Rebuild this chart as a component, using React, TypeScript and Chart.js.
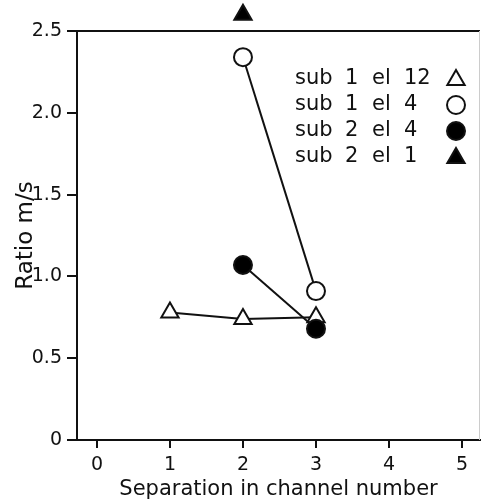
import React, { useEffect, useRef } from "react";
import { Chart, registerables } from "chart.js";

Chart.register(...registerables);

const seriesNames = ["sub 1 el 12", "sub 1 el 4", "sub 2 el 4", "sub 2 el 1"];
const sub1el12X = [1, 2, 3];
const sub1el12Y = [0.78, 0.74, 0.75];
const sub1el4X = [2, 3];
const sub1el4Y = [2.34, 0.91];
const sub2el4X = [2, 3];
const sub2el4Y = [1.07, 0.68];
const sub2el1X = [2];
const sub2el1Y = [2.6];
const xTickValues = [0, 1, 2, 3, 4, 5];
const yTickValues = [0, 0.5, 1.0, 1.5, 2.0, 2.5];
const xTitle = "Separation in channel number";
const yTitle = "Ratio m/s";

const FONT = "'DejaVu Sans', sans-serif";

const pts = (xs: number[], ys: number[]) => xs.map((x, i) => ({ x, y: ys[i] }));

const markerStyles = [
  { style: "triangle", fill: "#ffffff", r: 10 },
  { style: "circle", fill: "#ffffff", r: 9 },
  { style: "circle", fill: "#000000", r: 9 },
  { style: "triangle", fill: "#000000", r: 10 },
];

function drawMarker(ctx: CanvasRenderingContext2D, i: number, x: number, y: number) {
  const m = markerStyles[i];
  ctx.beginPath();
  if (m.style === "circle") {
    ctx.arc(x, y, m.r, 0, Math.PI * 2);
  } else {
    const r = m.r;
    ctx.moveTo(x, y - r);
    ctx.lineTo(x + r * Math.cos(Math.PI / 6), y + r / 2);
    ctx.lineTo(x - r * Math.cos(Math.PI / 6), y + r / 2);
    ctx.closePath();
  }
  ctx.fillStyle = m.fill;
  ctx.fill();
  ctx.strokeStyle = "#111";
  ctx.lineWidth = 2;
  ctx.stroke();
}

const frameAndLegend = {
  id: "frameAndLegend",
  afterDraw(chart: any) {
    const { ctx, chartArea, scales } = chart;
    ctx.save();
    ctx.strokeStyle = "#111";
    ctx.lineWidth = 2;
    ctx.beginPath();
    ctx.moveTo(chartArea.left, chartArea.top);
    ctx.lineTo(chartArea.right, chartArea.top);
    ctx.stroke();
    ctx.strokeStyle = "#ccc";
    ctx.lineWidth = 1;
    ctx.beginPath();
    ctx.moveTo(chartArea.right - 0.5, chartArea.top);
    ctx.lineTo(chartArea.right - 0.5, chartArea.bottom);
    ctx.stroke();

    // x tick labels, placed through the x scale
    ctx.font = `19px ${FONT}`;
    ctx.fillStyle = "#111";
    ctx.textAlign = "center";
    ctx.textBaseline = "middle";
    xTickValues.forEach((v) => {
      ctx.fillText(String(v), scales.x.getPixelForValue(v), chartArea.bottom + 25);
    });

    // out-of-range point (sub 2 el 1) placed through the scales
    sub2el1X.forEach((xv, k) => {
      drawMarker(ctx, 3, scales.x.getPixelForValue(xv), scales.y.getPixelForValue(sub2el1Y[k]));
    });

    // legend
    const cols = [295, 345, 372, 404];
    const rowY0 = 79;
    const rowGap = 26;
    const mx = 456;
    ctx.font = `21px ${FONT}`;
    ctx.textBaseline = "middle";
    ctx.textAlign = "left";
    seriesNames.forEach((name, i) => {
      const y = rowY0 + i * rowGap;
      ctx.fillStyle = "#111";
      name.split(" ").forEach((w, j) => ctx.fillText(w, cols[j], y));
      drawMarker(ctx, i, mx, y + (markerStyles[i].style === "triangle" ? 1 : 0));
    });
    ctx.restore();
  },
};

export default function App() {
  const ref = useRef<HTMLCanvasElement | null>(null);
  useEffect(() => {
    if (!ref.current) return;
    const mk = (i: number, data: any[], order: number) => ({
      label: seriesNames[i],
      data,
      showLine: true,
      borderColor: "#111",
      borderWidth: 2,
      pointStyle: markerStyles[i].style,
      pointRadius: markerStyles[i].r,
      pointBackgroundColor: markerStyles[i].fill,
      pointBorderColor: "#111",
      pointBorderWidth: 2,
      clip: false,
      order,
    });
    const chart = new Chart(ref.current, {
      type: "scatter",
      data: {
        datasets: [
          mk(0, pts(sub1el12X, sub1el12Y), 2),
          mk(1, pts(sub1el4X, sub1el4Y), 1),
          mk(2, pts(sub2el4X, sub2el4Y), 0),
        ],
      },
      plugins: [frameAndLegend],
      options: {
        animation: false,
        responsive: false,
        maintainAspectRatio: false,
        layout: { autoPadding: false, padding: { top: 31, right: 1, left: 0, bottom: 0 } },
        plugins: { legend: { display: false }, tooltip: { enabled: false } },
        scales: {
          x: {
            type: "linear",
            min: -0.273,
            max: 5.246,
            afterFit: (s: any) => { s.height = 60; },
            afterBuildTicks: (s: any) => { s.ticks = xTickValues.map((v) => ({ value: v })); },
            grid: { drawOnChartArea: false, tickLength: 8, color: "#111", lineWidth: 2 },
            border: { color: "#111", width: 2 },
            ticks: { display: false },
            title: { display: true, text: xTitle, color: "#111", font: { family: FONT, size: 21 }, padding: { top: 0, bottom: -2 } },
          },
          y: {
            type: "linear",
            min: 0,
            max: 2.5,
            afterFit: (s: any) => { s.width = 77; },
            afterBuildTicks: (s: any) => { s.ticks = yTickValues.map((v) => ({ value: v })); },
            grid: { drawOnChartArea: false, tickLength: 10, color: "#111", lineWidth: 2 },
            border: { color: "#111", width: 2 },
            ticks: {
              color: "#111",
              font: { family: FONT, size: 19 },
              padding: 5,
              callback: (v: any) => (Number(v) === 0 ? "0" : Number(v).toFixed(1)),
            },
            title: { display: true, text: yTitle, color: "#111", font: { family: FONT, size: 23 }, padding: { top: 12, bottom: 0 } },
          },
        },
      },
    });
    return () => chart.destroy();
  }, []);
  return (
    <div style={{ position: "fixed", left: 0, top: 0, width: 481, height: 500, background: "#fff" }}>
      <canvas ref={ref} width={481} height={500} style={{ width: 481, height: 500 }} />
    </div>
  );
}
